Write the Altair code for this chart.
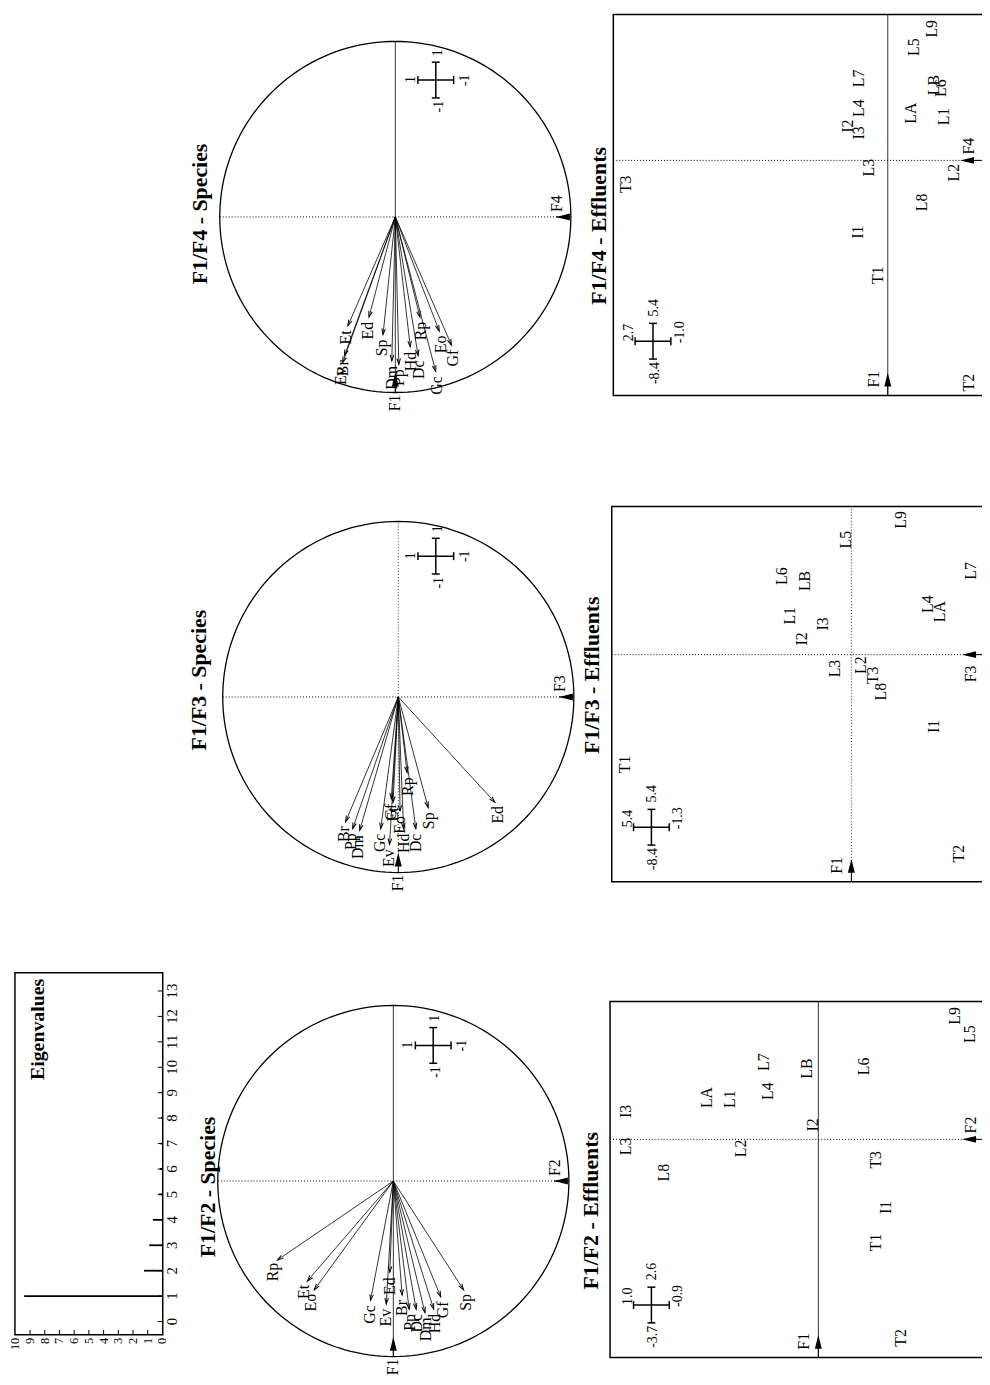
import altair as alt
import pandas as pd
import numpy as np

# ------------------------------------------------------------------
# Values
# ------------------------------------------------------------------
eig_index = list(range(1, 14))
eig_value = [9.4, 1.25, 0.9, 0.65, 0.25, 0.17, 0.12, 0.09, 0.06, 0.04, 0.03, 0.02, 0.02]
eig_index_ticks = list(range(0, 14))
eig_value_ticks = list(range(0, 11))

species = ["Rp", "Et", "Eo", "Gc", "Ev", "Ed", "Br", "Pp", "Dc", "Dm", "Hd", "Gf", "Sp"]
# F1/F2 correlation circle
sp12_f1 = [-0.45, -0.57, -0.62, -0.68, -0.70, -0.52, -0.65, -0.73, -0.73, -0.75, -0.73, -0.66, -0.62]
sp12_f2 = [0.66, 0.49, 0.45, 0.13, 0.04, 0.02, -0.05, -0.09, -0.13, -0.18, -0.23, -0.27, -0.40]
# F1/F3 correlation circle
sp13_f1 = [-0.43, -0.60, -0.65, -0.75, -0.84, -0.60, -0.71, -0.75, -0.75, -0.76, -0.75, -0.58, -0.63]
sp13_f3 = [-0.05, 0.03, -0.01, 0.10, 0.05, -0.55, 0.30, 0.26, -0.10, 0.22, -0.03, 0.04, -0.17]
# F1/F4 correlation circle
sp14_f1 = [-0.57, -0.62, -0.65, -0.88, -0.83, -0.57, -0.79, -0.84, -0.79, -0.82, -0.74, -0.73, -0.67]
sp14_f4 = [-0.14, 0.27, -0.25, -0.23, 0.30, 0.15, 0.29, -0.02, -0.13, 0.02, -0.085, -0.32, 0.07]

effluents = ["L1", "L2", "L3", "L4", "L5", "L6", "L7", "L8", "L9", "LA", "LB",
             "I1", "I2", "I3", "T1", "T2", "T3"]
ef12_f1 = [0.75, -0.17, -0.13, 0.90, 1.96, 1.36, 1.44, -0.62, 2.30, 0.78, 1.32,
           -1.27, 0.27, 0.52, -1.92, -3.70, -0.38]
ef12_f2 = [0.46, 0.40, 1.00, 0.26, -0.79, -0.24, 0.28, 0.80, -0.71, 0.58, 0.06,
           -0.35, 0.03, 1.00, -0.30, -0.43, -0.30]
ef13_f1 = [1.43, -0.39, -0.51, 1.86, 4.23, 2.89, 3.08, -1.36, 4.96, 1.58, 2.71,
           -2.64, 0.58, 1.13, -4.04, -7.32, -0.76]
ef13_f3 = [1.38, -0.22, 0.37, -1.73, 0.11, 1.57, -2.70, -0.67, -1.12, -1.99, 1.04,
           -1.87, 1.12, 0.63, 5.11, -2.43, -0.49]
ef14_f1 = [1.58, -0.44, -0.26, 1.88, 4.08, 2.60, 2.95, -1.51, 4.74, 1.70, 2.71,
           -2.58, 1.23, 0.99, -4.13, -8.00, -0.86]
ef14_f4 = [-0.55, -0.65, 0.18, 0.28, -0.26, -0.52, 0.28, -0.34, -0.44, -0.23, -0.46,
           0.29, 0.39, 0.28, 0.10, -0.80, 2.57]

cross_circle = ["1", "1", "-1", "-1"]          # left, top, bottom, right
cross_ef12 = ["1.0", "2.6", "-3.7", "-0.9"]
cross_ef13 = ["5.4", "5.4", "-8.4", "-1.3"]
cross_ef14 = ["2.7", "5.4", "-8.4", "-1.0"]

# ------------------------------------------------------------------
# Layout (page pixels) and helpers
# ------------------------------------------------------------------
M = 8
W, H = 982, 1377
SERIF = "Liberation Serif"
VHEAD = "M-0.6,1L0,-1L0.6,1"
TRI = "M0,-1L-0.5,1L0.5,1Z"
TITLE_SIZE = 22


class Panel:
    """Rotated panel: positive horizontal-axis values go left, F1 goes up."""

    def __init__(self, ox, oy, kx, ky):
        self.ox, self.oy, self.kx, self.ky = ox, oy, kx, ky
        self.xs = alt.Scale(domain=[(ox - M - W) / kx, (ox - M) / kx],
                            reverse=True, nice=False, zero=False)
        self.ys = alt.Scale(domain=[(oy - M - H) / ky, (oy - M) / ky],
                            nice=False, zero=False)

    def vx(self, px):
        return (self.ox - px) / self.kx

    def vy(self, py):
        return (self.oy - py) / self.ky

    def X(self, f):
        return alt.X(f, type="quantitative", scale=self.xs, axis=None)

    def Y(self, f):
        return alt.Y(f, type="quantitative", scale=self.ys, axis=None)


def seg_df(P, segs):
    return pd.DataFrame([{"x1": P.vx(a), "y1": P.vy(b), "x2": P.vx(c), "y2": P.vy(d)}
                         for a, b, c, d in segs])


def rule_layer(P, df, **mk):
    return alt.Chart(df).mark_rule(color="black", **mk).encode(
        x=P.X("x1"), x2=alt.X2("x2"), y=P.Y("y1"), y2=alt.Y2("y2"))


def text_px(P, items, **mk):
    """items: list of (page_x, page_y, text)"""
    df = pd.DataFrame({"x": [P.vx(a) for a, b, t in items],
                       "y": [P.vy(b) for a, b, t in items],
                       "t": [t for a, b, t in items]})
    props = dict(font=SERIF, color="black", angle=270)
    props.update(mk)
    return alt.Chart(df).mark_text(**props).encode(
        x=P.X("x"), y=P.Y("y"), text=alt.Text("t", type="nominal"))


def tri_px(P, px, py, ang):
    df = pd.DataFrame({"x": [P.vx(px)], "y": [P.vy(py)]})
    return alt.Chart(df).mark_point(shape=TRI, size=196, filled=True, color="black",
                                    opacity=1, angle=ang).encode(x=P.X("x"), y=P.Y("y"))


def cross_layers(P, cx, cy, labels, circle):
    a, c = 18, 4
    segs = [(cx - a, cy, cx + a, cy), (cx, cy - a, cx, cy + a),
            (cx - a, cy - c, cx - a, cy + c), (cx + a, cy - c, cx + a, cy + c),
            (cx - c, cy - a, cx + c, cy - a), (cx - c, cy + a, cx + c, cy + a)]
    out = [rule_layer(P, seg_df(P, segs), strokeWidth=1.5)]
    if circle:
        left = [(cx - 25, cy + 3, labels[0]), (cx + 2, cy - 24, labels[1]),
                (cx + 29, cy + 6, labels[3])]
        right = [(cx + 3, cy + 21, labels[2])]
    else:
        left = [(cx - 24, cy, labels[0]), (cx + 1, cy - 25, labels[1]),
                (cx + 27, cy + 2, labels[3])]
        right = [(cx + 2, cy + 21, labels[2])]
    out.append(text_px(P, left, align="left", baseline="middle", fontSize=14))
    out.append(text_px(P, right, align="right", baseline="middle", fontSize=14))
    return out


# ------------------------------------------------------------------
# Panels
# ------------------------------------------------------------------
def eigen_panel():
    P = Panel(163.7, 1326.7, 14.83, 25.64)
    L, Rr, T, B = 15, 164, 975, 1340
    layers = []
    box = pd.DataFrame({"x1": [P.vx(L)], "x2": [P.vx(Rr)], "y1": [P.vy(B)], "y2": [P.vy(T)]})
    layers.append(alt.Chart(box).mark_rect(fill="white", fillOpacity=0, stroke="black",
                                           strokeWidth=1.5).encode(
        x=P.X("x1"), x2=alt.X2("x2"), y=P.Y("y1"), y2=alt.Y2("y2")))
    bars = pd.DataFrame({"i": eig_index, "v": eig_value, "z": [0.0] * len(eig_index)})
    layers.append(alt.Chart(bars).mark_rule(color="black", strokeWidth=1.8).encode(
        x=P.X("z"), x2=alt.X2("v"), y=P.Y("i")))
    vt = pd.DataFrame({"v": eig_value_ticks[1:-1]})
    vt["y1"] = P.vy(B)
    vt["y2"] = P.vy(B - 5)
    layers.append(alt.Chart(vt).mark_rule(color="black", strokeWidth=1).encode(
        x=P.X("v"), y=P.Y("y1"), y2=alt.Y2("y2")))
    it = pd.DataFrame({"i": eig_index_ticks})
    it["x1"] = P.vx(Rr)
    it["x2"] = P.vx(Rr - 5)
    layers.append(alt.Chart(it).mark_rule(color="black", strokeWidth=1).encode(
        x=P.X("x1"), x2=alt.X2("x2"), y=P.Y("i")))
    vl = pd.DataFrame({"v": eig_value_ticks, "t": [str(v) for v in eig_value_ticks]})
    vl["y"] = P.vy(B + 3)
    layers.append(alt.Chart(vl).mark_text(font=SERIF, color="black", angle=270, align="right",
                                          baseline="middle", fontSize=12.5).encode(
        x=P.X("v"), y=P.Y("y"), text="t:N"))
    il = pd.DataFrame({"i": eig_index_ticks, "t": [str(i) for i in eig_index_ticks]})
    il["x"] = P.vx(Rr + 2)
    layers.append(alt.Chart(il).mark_text(font=SERIF, color="black", angle=270, align="center",
                                          baseline="top", fontSize=15).encode(
        x=P.X("x"), y=P.Y("i"), text="t:N"))
    layers.append(text_px(P, [(44, 981, "Eigenvalues")], align="right",
                          baseline="alphabetic", fontSize=20, fontWeight="bold"))
    return alt.layer(*layers)


def species_panel(f1, fk, ox, oy, axis_lab, title, title_x, title_cy, cross_c, vdash):
    R = 177.0
    P = Panel(ox, oy, R, R)
    layers = []
    t = np.arange(0, 361, 2)
    circ = pd.DataFrame({"a": np.cos(np.radians(t)), "b": np.sin(np.radians(t)), "o": t})
    layers.append(alt.Chart(circ).mark_line(color="black", strokeWidth=1.3).encode(
        x=P.X("a"), y=P.Y("b"), order=alt.Order("o:Q")))
    layers.append(rule_layer(P, seg_df(P, [(ox - R, oy, ox + R, oy)]),
                             strokeWidth=1, strokeDash=[1, 2]))
    vk = {"strokeDash": [1, 2]} if vdash else {}
    layers.append(rule_layer(P, seg_df(P, [(ox, oy + R, ox, oy - R)]), strokeWidth=0.8, **vk))

    sp = pd.DataFrame({"name": species, "f1": f1, "fk": fk})
    base = alt.Chart(sp).transform_calculate(
        r="sqrt(datum.fk*datum.fk + datum.f1*datum.f1)", z="0")
    layers.append(base.mark_rule(color="black", strokeWidth=0.8).encode(
        x=P.X("z"), x2=alt.X2("fk"), y=P.Y("z"), y2=alt.Y2("f1")))
    layers.append(base.transform_calculate(
        hx=f"datum.fk*(1-{3.0 / R}/datum.r)", hy=f"datum.f1*(1-{3.0 / R}/datum.r)",
        ang="(atan2(-datum.fk, datum.f1)*180/PI + 360) % 360"
    ).mark_point(shape=VHEAD, size=36, filled=False, color="black", strokeWidth=1,
                 opacity=1).encode(x=P.X("hx"), y=P.Y("hy"),
                                   angle=alt.Angle("ang:Q", scale=None)))
    layers.append(base.transform_calculate(
        lx=f"datum.fk*(1+{5.0 / R}/datum.r)", ly=f"datum.f1*(1+{5.0 / R}/datum.r)"
    ).mark_text(font=SERIF, color="black", angle=270, align="right", baseline="middle",
                fontSize=16).encode(x=P.X("lx"), y=P.Y("ly"), text="name:N"))

    # axis arrows and names
    layers.append(rule_layer(P, seg_df(P, [(ox, oy + R, ox, oy + R - 16),
                                            (ox + R - 15, oy, ox + R, oy)]), strokeWidth=1))
    layers.append(tri_px(P, ox, oy + R - 13, 0))
    layers.append(tri_px(P, ox + R - 8, oy, 270))
    layers.append(text_px(P, [(ox, oy + R + 2, "F1")], align="right", baseline="middle",
                          fontSize=16))
    layers.append(text_px(P, [(ox + R - 14, oy - 5, axis_lab)], align="left",
                          baseline="middle", fontSize=16))
    layers += cross_layers(P, cross_c[0], cross_c[1], cross_circle, True)
    layers.append(text_px(P, [(title_x, title_cy, title)], align="center",
                          baseline="alphabetic", fontSize=TITLE_SIZE, fontWeight="bold"))
    return alt.layer(*layers)


def effluent_panel(f1, fk, ox, oy, kx, ky, box, axis_lab, lab_below, tip_x, title,
                   title_x, title_cy, cross_c, cross_txt, vdash):
    left, right, top, bottom = box
    P = Panel(ox, oy, kx, ky)
    layers = []
    bdf = pd.DataFrame({"x1": [P.vx(left)], "x2": [P.vx(right)],
                        "y1": [P.vy(bottom)], "y2": [P.vy(top)]})
    layers.append(alt.Chart(bdf).mark_rect(fill="white", fillOpacity=0, stroke="black",
                                           strokeWidth=1.5).encode(
        x=P.X("x1"), x2=alt.X2("x2"), y=P.Y("y1"), y2=alt.Y2("y2")))
    layers.append(rule_layer(P, seg_df(P, [(left, oy, right, oy)]),
                             strokeWidth=1, strokeDash=[1, 2]))
    vk = {"strokeDash": [1, 2]} if vdash else {}
    layers.append(rule_layer(P, seg_df(P, [(ox, bottom, ox, top)]), strokeWidth=0.8, **vk))

    ef = pd.DataFrame({"name": effluents, "f1": f1, "fk": fk})
    layers.append(alt.Chart(ef).mark_text(font=SERIF, color="black", angle=270,
                                          align="center", baseline="middle",
                                          fontSize=16).encode(
        x=P.X("fk"), y=P.Y("f1"), text="name:N"))

    layers.append(rule_layer(P, seg_df(P, [(ox, bottom, ox, bottom - 16),
                                            (tip_x + 7, oy, right, oy)]), strokeWidth=1))
    layers.append(tri_px(P, ox, bottom - 16, 0))
    layers.append(tri_px(P, tip_x + 7, oy, 270))
    layers.append(text_px(P, [(ox - 14, bottom - 8, "F1")], align="left", baseline="middle",
                          fontSize=16))
    if lab_below:
        layers.append(text_px(P, [(tip_x + 9, oy + 11, axis_lab)], align="right",
                              baseline="middle", fontSize=16))
    else:
        layers.append(text_px(P, [(tip_x + 9, oy - 6, axis_lab)], align="left",
                              baseline="middle", fontSize=16))
    layers += cross_layers(P, cross_c[0], cross_c[1], cross_txt, False)
    layers.append(text_px(P, [(title_x, title_cy, title)], align="center",
                          baseline="alphabetic", fontSize=TITLE_SIZE, fontWeight="bold"))
    return alt.layer(*layers)


panels = [
    eigen_panel(),
    species_panel(sp12_f1, sp12_f2, 396.5, 1185, "F2", "F1/F2 - Species", 217, 1191,
                  (436.7, 1048.3), False),
    species_panel(sp13_f1, sp13_f3, 401.5, 697, "F3", "F1/F3 - Species", 208, 680,
                  (439.3, 555), True),
    species_panel(sp14_f1, sp14_f4, 398.5, 213, "F4", "F1/F4 - Species", 209, 210,
                  (439.3, 75), False),
    effluent_panel(ef12_f1, ef12_f2, 825, 1143, 194, 54.1, (615, 995, 1004, 1363), "F2",
                   False, 970, "F1/F2 - Effluents", 603, 1215, (656.7, 1310), cross_ef12,
                   False),
    effluent_panel(ef13_f1, ef13_f3, 858.3, 654.3, 44.7, 27.4, (616.7, 995, 505, 883.3), "F3",
                   True, 970, "F1/F3 - Effluents", 604, 675, (656.7, 828.3), cross_ef13,
                   True),
    effluent_panel(ef14_f1, ef14_f4, 895, 156, 102.5, 28, (618.3, 995, 9, 393), "F4",
                   False, 968, "F1/F4 - Effluents", 611, 222, (658.3, 338.3), cross_ef14,
                   False),
]

chart = alt.layer(*panels).resolve_scale(
    x="independent", y="independent"
).properties(
    width=W, height=H, padding=0,
    autosize=alt.AutoSizeParams(type="none"),
    background="white",
).configure_view(stroke="transparent")

chart.save("out.html", embed_options={"renderer": "svg", "actions": False})
